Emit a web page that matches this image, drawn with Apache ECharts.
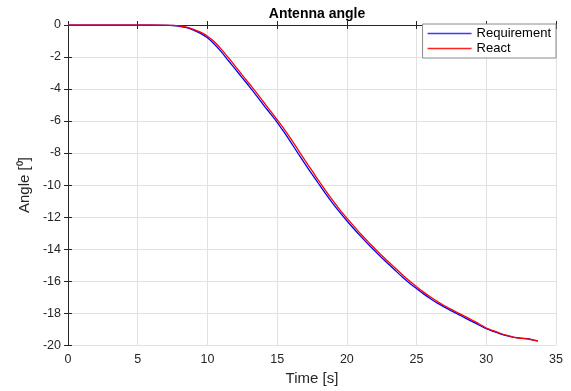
<!DOCTYPE html>
<html>
<head>
<meta charset="utf-8">
<script src="https://cdn.jsdelivr.net/npm/echarts@6/dist/echarts.min.js"></script>
<style>html,body{margin:0;padding:0;background:#fff;}#c{width:571px;height:391px;}</style>
</head>
<body>
<div id="c"></div>
<script>
const timeS = [0,1,2,3,4,5,6,7,7.5,8,8.5,9,9.5,10,10.5,11,11.5,12,12.5,13,13.5,14,14.5,15,15.5,16,16.5,17,17.5,18,18.5,19,19.5,20,20.5,21,21.5,22,22.5,23,23.5,24,24.5,25,25.5,26,26.5,27,27.5,28,28.5,29,29.5,30,30.5,31,31.5,32,32.5,33,33.5,33.7];
const requirement = [0,0,0,0,0,0,0,-0.01,-0.03,-0.08,-0.17,-0.32,-0.52,-0.80,-1.20,-1.68,-2.22,-2.76,-3.30,-3.84,-4.40,-4.97,-5.52,-6.08,-6.70,-7.35,-8.02,-8.68,-9.32,-9.95,-10.57,-11.16,-11.71,-12.23,-12.73,-13.21,-13.67,-14.11,-14.54,-14.95,-15.36,-15.76,-16.13,-16.47,-16.80,-17.10,-17.38,-17.63,-17.86,-18.08,-18.31,-18.53,-18.76,-18.98,-19.15,-19.30,-19.42,-19.52,-19.57,-19.60,-19.71,-19.75];
const react = [0,0,0,0,0,0,0,-0.01,-0.02,-0.06,-0.14,-0.27,-0.45,-0.70,-1.05,-1.52,-2.04,-2.58,-3.13,-3.67,-4.21,-4.78,-5.35,-5.92,-6.50,-7.13,-7.80,-8.46,-9.10,-9.76,-10.38,-10.98,-11.55,-12.07,-12.57,-13.06,-13.52,-13.96,-14.40,-14.81,-15.21,-15.62,-15.99,-16.35,-16.69,-17.00,-17.28,-17.54,-17.77,-18.00,-18.22,-18.45,-18.68,-18.93,-19.10,-19.26,-19.40,-19.52,-19.58,-19.62,-19.70,-19.74];
const xTicks = [0,5,10,15,20,25,30,35];
const yTicks = [0,-2,-4,-6,-8,-10,-12,-14,-16,-18,-20];

const reqData = timeS.map((t,i)=>[t, requirement[i]]);
const reactData = timeS.map((t,i)=>[t, react[i]]);

const txt = '#262626';
const font = 'Liberation Sans, Arial, sans-serif';
const chart = echarts.init(document.getElementById('c'));
const baseAxis = {
  axisLine:{show:true,lineStyle:{color:txt,width:1}},
  axisTick:{show:true,inside:true,length:4,lineStyle:{color:txt}},
  axisLabel:{color:txt,fontSize:12,fontFamily:font},
  splitLine:{show:true,lineStyle:{color:'#e1e1e1',width:1}}
};
chart.setOption({
  animation:false,
  backgroundColor:'#fff',
  title:{text:'Antenna angle',left:312,top:2,textAlign:'center',
    textStyle:{fontSize:14,fontWeight:'bold',color:'#000',fontFamily:font}},
  legend:{
    right:15, top:24, orient:'vertical', icon:'rect', itemWidth:44, itemHeight:1.4, itemGap:2,
    padding:[3,5,3,5], borderColor:'#8a8a8a', borderWidth:1, borderRadius:0,
    backgroundColor:'#fff',
    textStyle:{fontSize:13,color:'#000',fontFamily:font,lineHeight:13},
    data:[
      {name:'Requirement',itemStyle:{color:'#3a3aff',borderWidth:0}},
      {name:'React',itemStyle:{color:'#ff2020',borderWidth:0}}
    ]
  },
  grid:{left:68,right:15,top:25,bottom:42},
  xAxis:[
    Object.assign({},baseAxis,{type:'value',min:0,max:35,interval:5,position:'bottom',
      name:'Time [s]',nameLocation:'middle',nameGap:24,
      nameTextStyle:{fontSize:15,color:txt,fontFamily:font},
      axisLabel:{color:txt,fontSize:12.5,fontFamily:font,margin:8}}),
    {type:'value',min:0,max:35,interval:5,position:'top',
      axisLine:{show:true,lineStyle:{color:txt}},
      axisTick:{show:true,inside:true,length:4,lineStyle:{color:txt}},
      axisLabel:{show:false},splitLine:{show:false}}
  ],
  yAxis:[
    Object.assign({},baseAxis,{type:'value',min:-20,max:0,interval:2,position:'left',
      name:'Angle [⁰]',nameLocation:'middle',nameGap:34,nameRotate:90,
      nameTextStyle:{fontSize:15,color:txt,fontFamily:font},
      axisLabel:{color:txt,fontSize:12.5,fontFamily:font,margin:7}}),
    {type:'value',min:-20,max:0,interval:2,position:'right',
      axisLine:{show:true,lineStyle:{color:txt}},
      axisTick:{show:true,inside:true,length:4,lineStyle:{color:txt}},
      axisLabel:{show:false},splitLine:{show:false}}
  ],
  series:[
    {name:'Requirement',type:'line',data:reqData,symbol:'none',smooth:0.3,
      lineStyle:{color:'#0000ff',width:1.3},itemStyle:{color:'#0000ff'},xAxisIndex:0,yAxisIndex:0},
    {name:'React',type:'line',data:reactData,symbol:'none',smooth:0.3,
      lineStyle:{color:'#ff0000',width:1.3},itemStyle:{color:'#ff0000'},xAxisIndex:0,yAxisIndex:0}
  ]
});
</script>
</body>
</html>
